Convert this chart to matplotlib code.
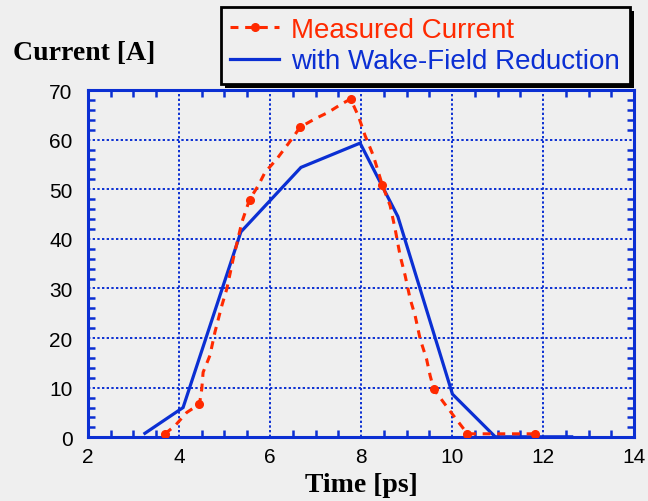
import matplotlib
matplotlib.use("Agg")
import matplotlib.pyplot as plt
from matplotlib.patches import Rectangle
from matplotlib.ticker import MultipleLocator

# measured current profile (ps, A), dots mark the sampled points
meas_t = [3.69, 3.91, 4.17, 4.45, 4.50, 4.53, 4.68, 4.79, 4.94, 5.05, 5.19, 5.38,
          5.55, 5.74, 5.89, 6.15, 6.51, 6.66, 6.99, 7.28, 7.54, 7.77, 7.94, 8.09,
          8.27, 8.47, 8.64, 8.75, 8.86, 8.97, 9.08, 9.19, 9.30, 9.44, 9.52, 9.60,
          9.81, 10.03, 10.34, 11.82]
meas_i = [0.7, 2.3, 5.0, 6.7, 9.7, 13.1, 16.5, 21.2, 26.5, 29.9, 35.9, 43.3,
          47.9, 50.7, 53.4, 56.1, 60.5, 62.5, 64.2, 65.5, 67.0, 68.2, 64.8, 60.8,
          56.8, 50.8, 46.7, 42.0, 36.6, 32.6, 27.9, 24.5, 19.8, 15.8, 12.4, 9.7,
          7.1, 4.4, 0.7, 0.7]
meas_dots = [0, 3, 12, 17, 21, 25, 35, 38, 39]

# current after wake-field reduction
wake_t = [3.25, 4.09, 5.36, 6.68, 7.98, 8.81, 10.01, 10.95, 12.63]
wake_i = [0.8, 6.0, 41.4, 54.4, 59.3, 44.5, 8.7, 0.1, 0.1]

blue = "#0b2fd3"
red = "#ff2a00"
bg = "#efefef"

plt.rcParams["font.family"] = ["Liberation Sans", "DejaVu Sans"]

fig = plt.figure(figsize=(6.48, 5.02), dpi=100, facecolor=bg)
ax = fig.add_axes([0.1358, 0.1269, 0.8426, 0.6918], facecolor=bg)

ax.plot(wake_t, wake_i, color=blue, lw=2.3, solid_joinstyle="miter",
        label="with Wake-Field Reduction", zorder=3)
ax.plot(meas_t, meas_i, color=red, lw=2.2, dashes=(2.6, 2.2),
        marker="o", markersize=5.5, markevery=meas_dots,
        label="Measured Current", zorder=4)

ax.set_xlim(2, 14)
ax.set_ylim(0, 70)
ax.xaxis.set_major_locator(MultipleLocator(2))
ax.xaxis.set_minor_locator(MultipleLocator(0.5))
ax.yaxis.set_major_locator(MultipleLocator(10))
ax.yaxis.set_minor_locator(MultipleLocator(2))

ax.grid(True, which="major", color=blue, lw=1.4, linestyle=(0, (1.2, 1.2)))
ax.tick_params(which="both", direction="in", top=True, right=True,
               color=blue, width=1.8, labelsize=15)
ax.tick_params(axis="y", pad=11)
ax.tick_params(axis="x", pad=7)
ax.tick_params(which="major", length=0)
ax.tick_params(which="minor", length=5)
for sp in ax.spines.values():
    sp.set_color(blue)
    sp.set_linewidth(2.2)

fig.text(0.020, 0.893, "Current [A]", family="Liberation Serif",
         weight="bold", fontsize=20, va="center", ha="left")
ax.set_xlabel("Time [ps]", family="Liberation Serif", weight="bold",
              fontsize=20, labelpad=4)

handles, labels = ax.get_legend_handles_labels()
leg = fig.legend(handles[::-1], labels[::-1], loc="upper right",
                 bbox_to_anchor=(0.972, 0.984), fontsize=20, frameon=True,
                 fancybox=False, edgecolor="black", facecolor=bg,
                 framealpha=1, borderpad=0.35, labelspacing=0.2,
                 handlelength=1.75, handletextpad=0.45, borderaxespad=0)
leg.get_frame().set_linewidth(2)
leg.texts[0].set_color(red)
leg.texts[1].set_color(blue)

# drop shadow under the legend box
fig.canvas.draw()
bb = leg.get_frame().get_window_extent().transformed(fig.transFigure.inverted())
dx, dy = 4 / 648, 4 / 502
fig.patches.append(Rectangle((bb.x0 + dx, bb.y0 - dy), bb.width, bb.height,
                             transform=fig.transFigure, facecolor="black",
                             edgecolor="none", zorder=1))
leg.set_zorder(5)

fig.savefig("out.png", dpi=100, facecolor=bg)
